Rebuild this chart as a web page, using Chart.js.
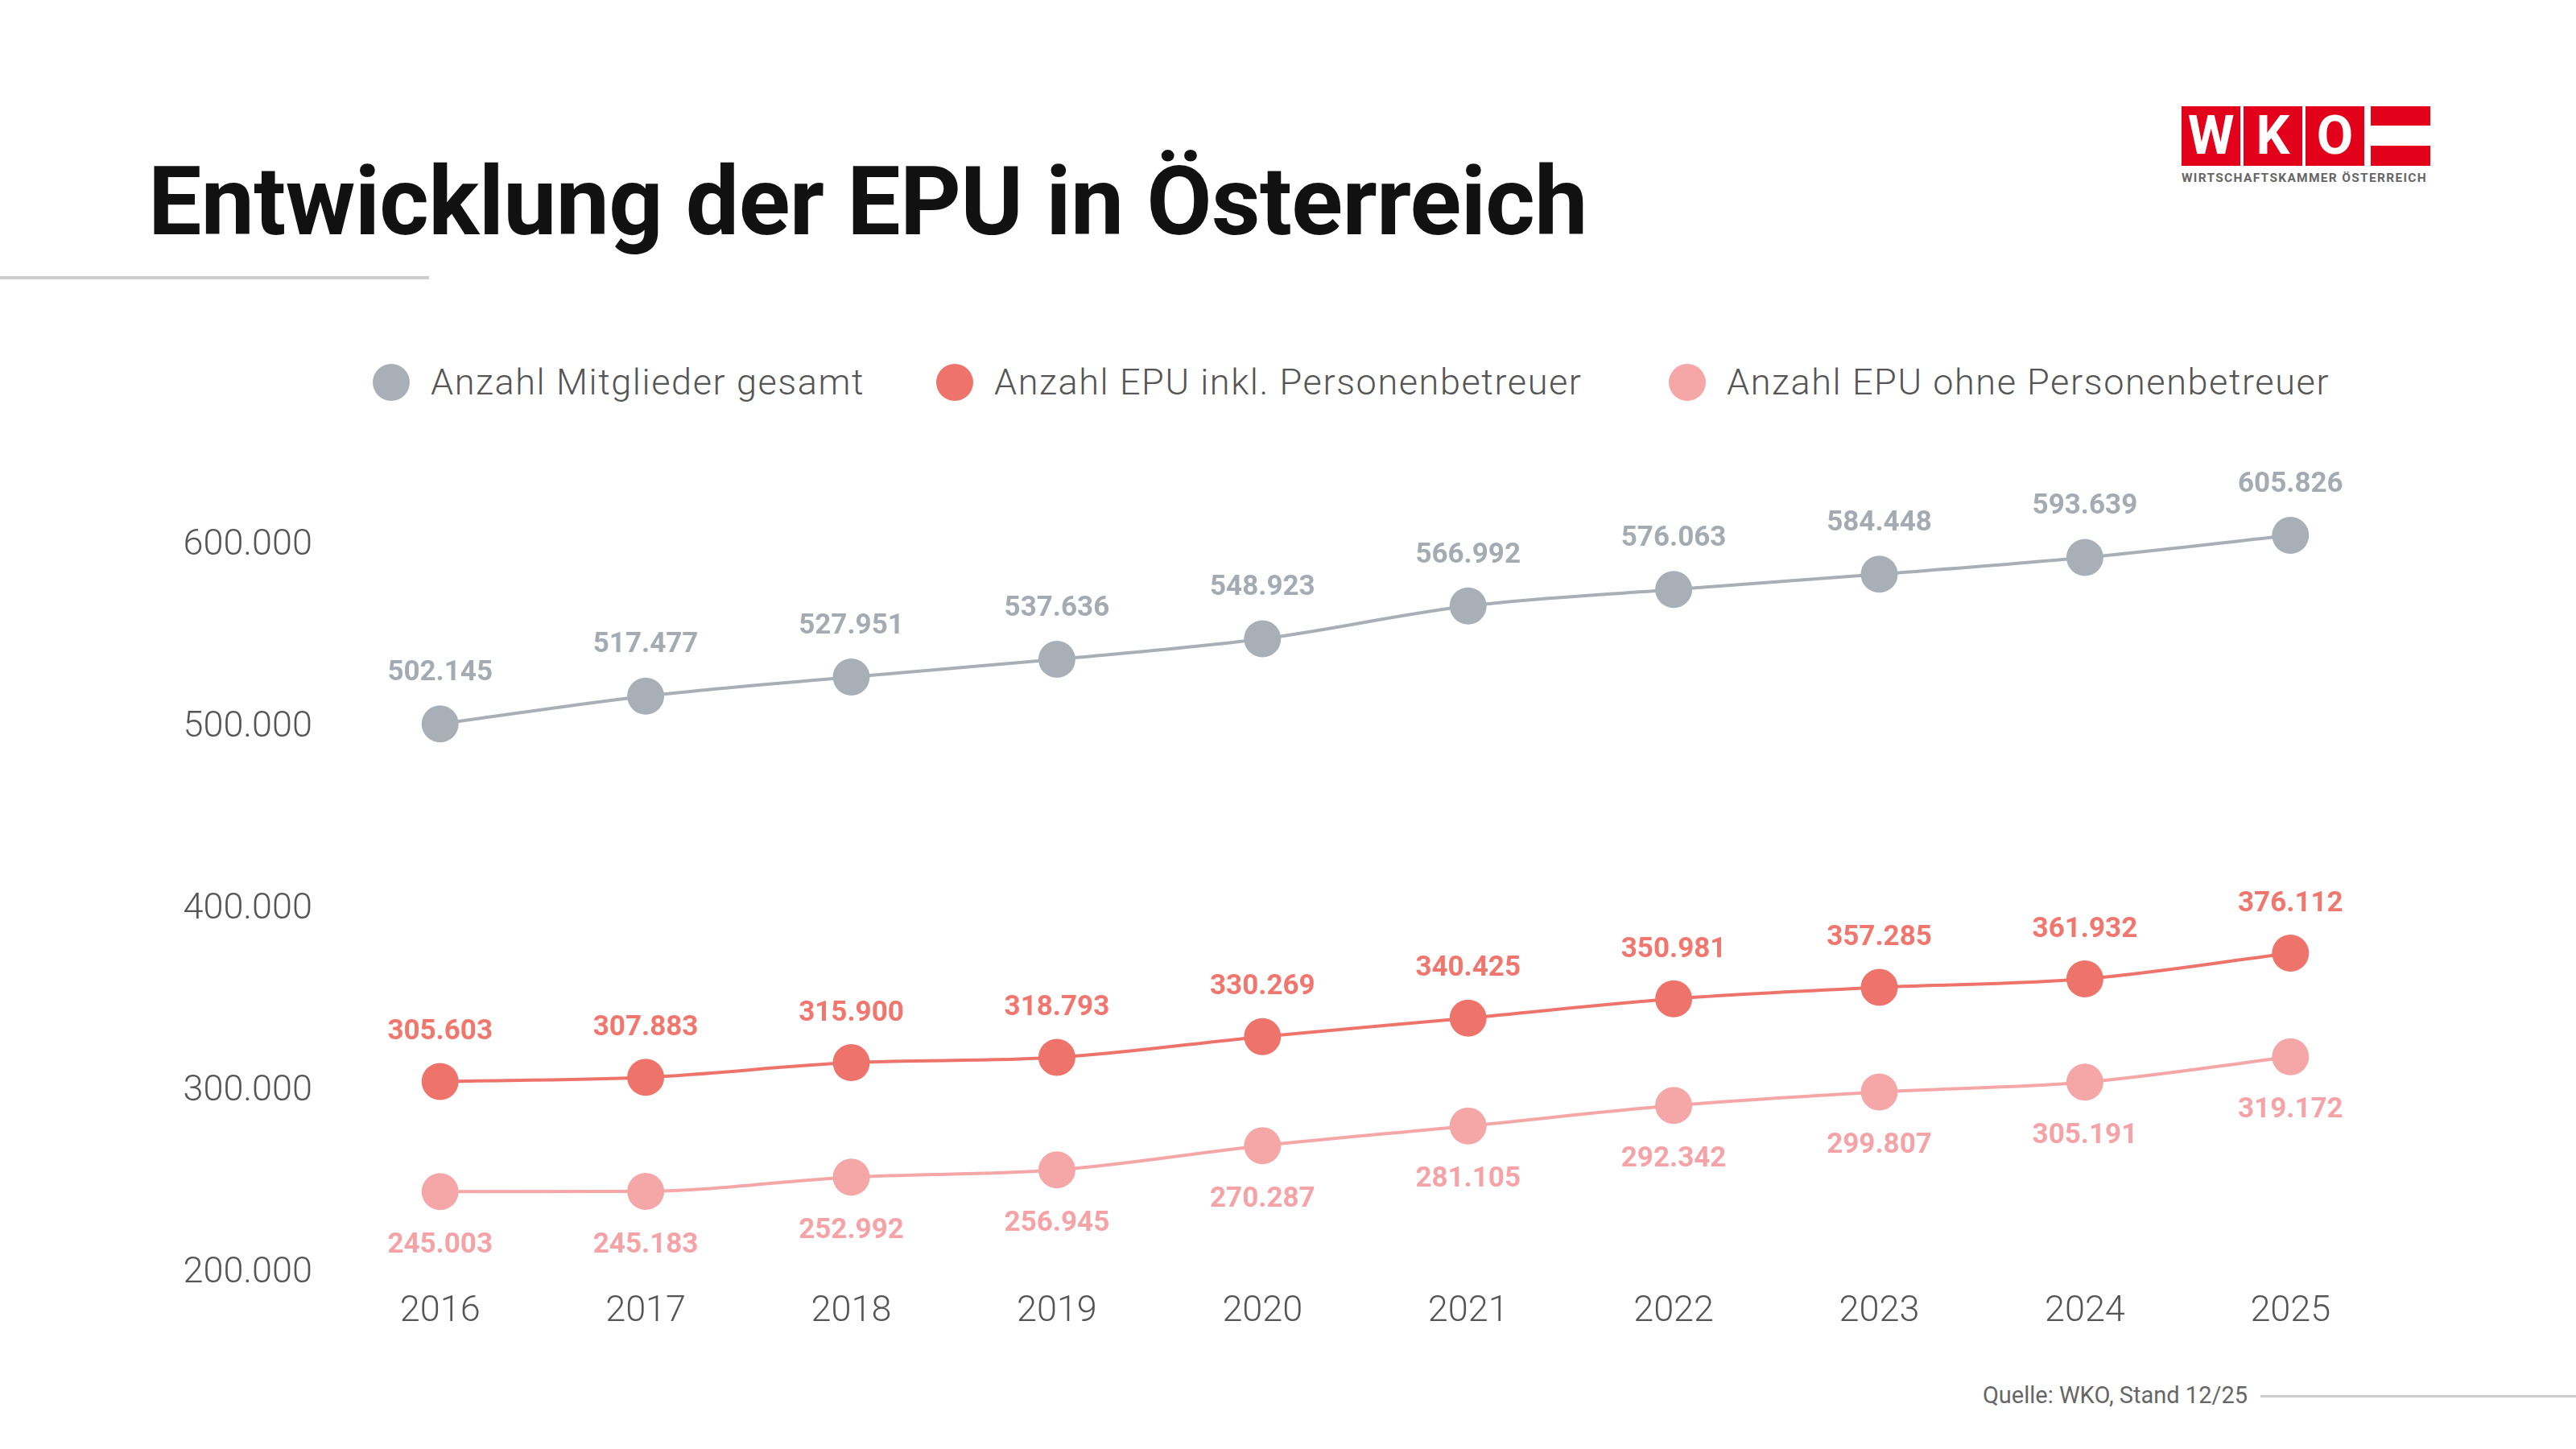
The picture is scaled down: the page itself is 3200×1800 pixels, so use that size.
<!DOCTYPE html>
<html><head><meta charset="utf-8">
<script src="https://cdn.jsdelivr.net/npm/chart.js@4/dist/chart.umd.min.js"></script>
<style>
body{margin:0;width:3200px;height:1800px;background:#fff;position:relative;overflow:hidden;font-family:Roboto,sans-serif}
#title{position:absolute;left:184px;top:182px;font-size:118px;font-weight:700;color:#111;letter-spacing:-0.6px;white-space:nowrap}
#tline{position:absolute;left:0;top:343px;width:533px;height:4px;background:#ccc}
.lg{position:absolute;top:446px;font-size:45px;font-weight:300;color:#555;white-space:nowrap;line-height:58px;letter-spacing:1.6px}
.dot{position:absolute;width:46px;height:46px;border-radius:50%;top:452px}
#src{position:absolute;right:408px;top:1716px;font-size:29px;color:#666}
#sline{position:absolute;left:2808px;top:1733px;width:392px;height:3px;background:#ccc}
.lb{position:absolute;background:#e2001a}
#lt{position:absolute;left:2710px;top:212px;font-size:15.5px;font-weight:700;color:#666;letter-spacing:1.3px;white-space:nowrap}
.lw{position:absolute;color:#fff;font-weight:700;font-size:66px;top:132px;width:73px;text-align:center;line-height:74px}
canvas{position:absolute;left:0;top:400px}
</style></head><body>
<div id="title">Entwicklung der EPU in Österreich</div>
<div id="tline"></div>
<div class="lb" style="left:2710px;top:132px;width:73px;height:74px"></div>
<div class="lb" style="left:2787px;top:132px;width:73px;height:74px"></div>
<div class="lb" style="left:2864px;top:132px;width:73px;height:74px"></div>
<div class="lb" style="left:2945px;top:132px;width:74px;height:24px"></div>
<div class="lb" style="left:2945px;top:181px;width:74px;height:25px"></div>
<div class="lw" style="left:2710px">W</div><div class="lw" style="left:2787px">K</div><div class="lw" style="left:2864px">O</div>
<div id="lt">WIRTSCHAFTSKAMMER ÖSTERREICH</div>
<div class="dot" style="left:463px;background:#A9AFB7"></div><div class="lg" style="left:535px">Anzahl Mitglieder gesamt</div>
<div class="dot" style="left:1163px;background:#EE736B"></div><div class="lg" style="left:1235px">Anzahl EPU inkl. Personenbetreuer</div>
<div class="dot" style="left:2073px;background:#F5A7A8"></div><div class="lg" style="left:2145px">Anzahl EPU ohne Personenbetreuer</div>
<div id="src">Quelle: WKO, Stand 12/25</div><div id="sline"></div>
<canvas id="c" width="3200" height="1300"></canvas>
<script>
const years=['2016','2017','2018','2019','2020','2021','2022','2023','2024','2025'];
const mitglieder=[502145,517477,527951,537636,548923,566992,576063,584448,593639,605826];
const epuInkl=[305603,307883,315900,318793,330269,340425,350981,357285,361932,376112];
const epuOhne=[245003,245183,252992,256945,270287,281105,292342,299807,305191,319172];
const yTicks=[200000,300000,400000,500000,600000];
const fmt=v=>v.toLocaleString('de-DE');
const cols=['#A9AFB7','#EE736B','#F5A7A8'];
const lblCols=['#A5ABB3','#F0766E','#F5A3A6'];
const offs=[-63,-61,67];
const lblPlugin={id:'lbl',afterDatasetsDraw(ch){const c=ch.ctx;c.save();c.font='bold 35px Roboto';c.textAlign='center';c.textBaseline='middle';
ch.data.datasets.forEach((d,i)=>{ch.getDatasetMeta(i).data.forEach((p,j)=>{c.fillStyle=lblCols[i];c.fillText(fmt(d.data[j]),p.x,p.y+offs[i]);});});c.restore();}};
const ds=(data,i)=>({data,borderColor:cols[i],backgroundColor:cols[i],pointBackgroundColor:cols[i],pointBorderWidth:0,pointRadius:23,pointHoverRadius:23,borderWidth:4,cubicInterpolationMode:'monotone'});
new Chart(document.getElementById('c'),{type:'line',plugins:[lblPlugin],
data:{labels:years,datasets:[ds(mitglieder,0),ds(epuInkl,1),ds(epuOhne,2)]},
options:{responsive:false,animation:false,layout:{padding:{top:233,right:227,left:0,bottom:0}},
plugins:{legend:{display:false},tooltip:{enabled:false}},
scales:{x:{offset:true,grid:{display:false},border:{display:false},ticks:{font:{size:45,family:'Roboto',weight:300},color:'#555',padding:13},afterFit:s=>{s.height=118}},
y:{min:200000,max:620000,grid:{display:false,drawTicks:false},border:{display:false},afterBuildTicks:s=>{s.ticks=yTicks.map(v=>({value:v}))},
ticks:{callback:v=>fmt(v),font:{size:45,family:'Roboto',weight:300},color:'#555',padding:31},afterFit:s=>{s.width=419}}}}});
</script></body></html>
